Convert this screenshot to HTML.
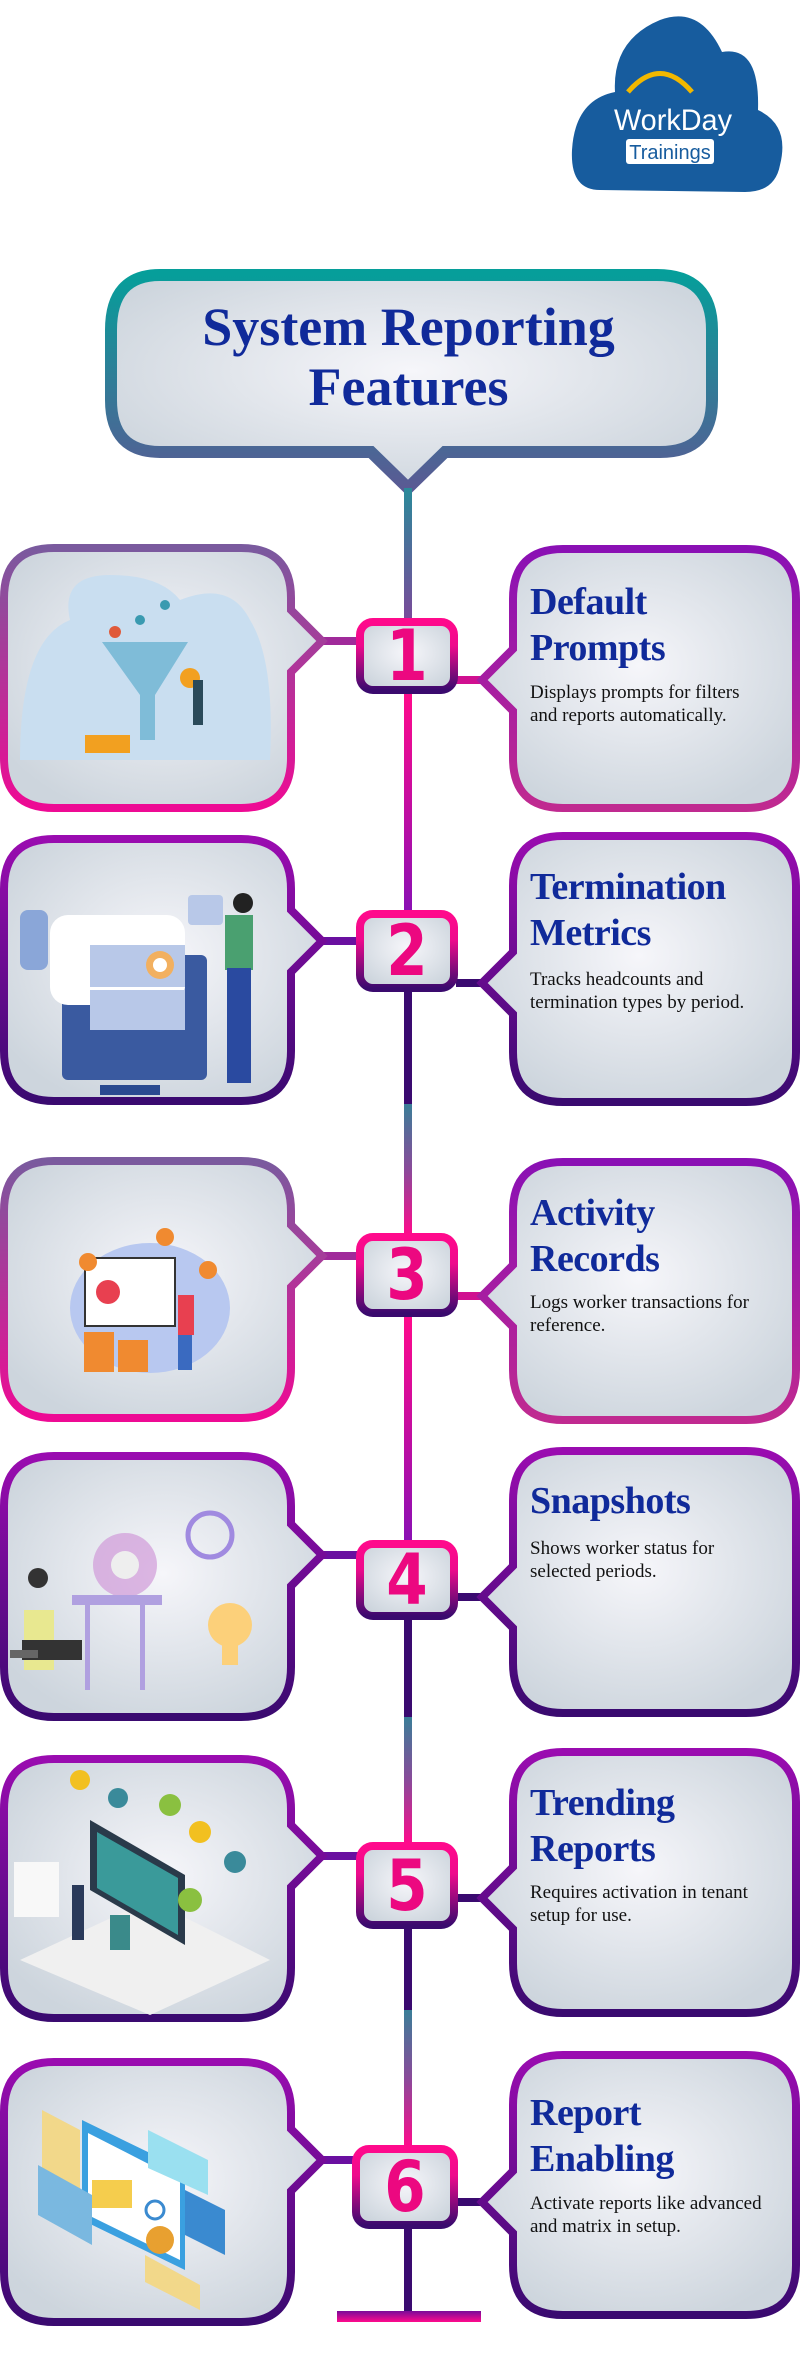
<!DOCTYPE html>
<html><head><meta charset="utf-8"><style>
html,body{margin:0;padding:0;background:#fff;}
.wrap{position:relative;width:800px;height:2353px;overflow:hidden;font-family:"Liberation Serif",serif;}
svg{position:absolute;left:0;top:0;}
.h{position:absolute;left:530px;width:260px;color:#102a9a;font-weight:bold;font-size:38px;line-height:46px;letter-spacing:-0.5px;}
.b{position:absolute;left:530px;width:248px;color:#111;font-size:19px;line-height:23px;}
.n{position:absolute;width:104px;text-align:center;font-family:"DejaVu Sans",sans-serif;font-weight:bold;color:#ec0880;font-size:70px;line-height:80px;transform:scaleX(0.85);}
.t{position:absolute;left:105px;width:607px;text-align:center;color:#102a9a;font-weight:bold;font-size:54px;line-height:60px;}
</style></head><body><div class="wrap">
<svg width="800" height="2353" viewBox="0 0 800 2353">
<defs>
<radialGradient id="fill" cx="50%" cy="45%" r="60%"><stop offset="0" stop-color="#f6f6fa"/><stop offset="1" stop-color="#cdd5dd"/></radialGradient>
<linearGradient id="gp" x1="0" y1="0" x2="0" y2="1"><stop offset="0" stop-color="#7a5a9e"/><stop offset="1" stop-color="#ee0a94"/></linearGradient>
<linearGradient id="pp" x1="0" y1="0" x2="0" y2="1"><stop offset="0" stop-color="#8a10b4"/><stop offset="1" stop-color="#c02a90"/></linearGradient>
<linearGradient id="pd" x1="0" y1="0" x2="0" y2="1"><stop offset="0" stop-color="#9a0cb0"/><stop offset="1" stop-color="#3a0a70"/></linearGradient>
<linearGradient id="num" x1="0" y1="0" x2="0" y2="1"><stop offset="0" stop-color="#ff0a8c"/><stop offset="0.35" stop-color="#ee0a8c"/><stop offset="1" stop-color="#3a0a6e"/></linearGradient>
<linearGradient id="tl" x1="0" y1="0" x2="0" y2="1"><stop offset="0" stop-color="#069e9a"/><stop offset="1" stop-color="#5a5a94"/></linearGradient>
<linearGradient id="seg" x1="0" y1="0" x2="0" y2="1"><stop offset="0" stop-color="#3a7e98"/><stop offset="0.5" stop-color="#8a4a9a"/><stop offset="1" stop-color="#ff0a8c"/></linearGradient>
<linearGradient id="segT" x1="0" y1="0" x2="0" y2="1"><stop offset="0" stop-color="#2a8a9a"/><stop offset="1" stop-color="#7a4a9a"/></linearGradient>
<linearGradient id="bar" x1="0" y1="0" x2="0" y2="1"><stop offset="0" stop-color="#7a0a9a"/><stop offset="1" stop-color="#ff0a8c"/></linearGradient>
<linearGradient id="pinkpur" x1="0" y1="0" x2="0" y2="1"><stop offset="0" stop-color="#ff0a8c"/><stop offset="1" stop-color="#8a10b4"/></linearGradient>
</defs>

<g>
<path d="M600 190 Q570 190 572 150 Q575 100 615 92 Q612 40 660 20 Q700 5 722 52 Q760 45 758 110 Q790 125 780 165 Q775 192 745 192 Z" fill="#175c9e"/>
<path d="M628 92 Q660 55 692 92" stroke="#f2b800" stroke-width="5" fill="none"/>
<text x="673" y="130" text-anchor="middle" font-family="Liberation Sans,sans-serif" font-size="30" fill="#fff" textLength="118" lengthAdjust="spacingAndGlyphs">WorkDay</text>
<rect x="626" y="139" width="88" height="25" rx="3" fill="#fff"/>
<text x="670" y="159" text-anchor="middle" font-family="Liberation Sans,sans-serif" font-size="20" fill="#175c9e">Trainings</text>
</g>

<path d="M160 275 H657 Q712 275 712 330 V400 Q712 452 660 452 H445 L408 488 L371 452 H160 Q111 452 111 400 V330 Q111 275 160 275 Z" fill="url(#fill)" stroke="url(#tl)" stroke-width="12"/>

<rect x="404" y="488" width="8" height="132" fill="url(#segT)"/>
<rect x="404" y="694" width="8" height="218" fill="url(#pinkpur)"/>
<rect x="404" y="992" width="8" height="112" fill="#3a0a70"/>
<rect x="404" y="1104" width="8" height="131" fill="url(#seg)"/>
<rect x="404" y="1317" width="8" height="225" fill="url(#pinkpur)"/>
<rect x="404" y="1619" width="8" height="98" fill="#3a0a70"/>
<rect x="404" y="1717" width="8" height="127" fill="url(#seg)"/>
<rect x="404" y="1928" width="8" height="82" fill="#3a0a70"/>
<rect x="404" y="2010" width="8" height="137" fill="url(#seg)"/>
<rect x="404" y="2227" width="8" height="88" fill="#3a0a70"/>
<rect x="337" y="2311" width="144" height="11" fill="url(#bar)"/>

<g>
<rect x="318" y="637" width="40" height="8" fill="#a02a9a"/>
<rect x="456" y="676" width="30" height="8" fill="#d01090"/>
<path d="M54 548 H241 Q291 548 291 598 V610 L322 641 L291 672 V758 Q291 808 241 808 H54 Q4 808 4 758 V598 Q4 548 54 548 Z" fill="url(#fill)" stroke="url(#gp)" stroke-width="8"/>
<path d="M563 549 H746 Q796 549 796 599 V758 Q796 808 746 808 H563 Q513 808 513 758 V711 L482 680 L513 649 V599 Q513 549 563 549 Z" fill="url(#fill)" stroke="url(#pp)" stroke-width="8"/>
<rect x="360" y="622" width="94" height="68" rx="13" fill="url(#fill)" stroke="url(#num)" stroke-width="8"/>
</g>
<g>
<rect x="318" y="937" width="40" height="8" fill="#6a10a0"/>
<rect x="456" y="979" width="30" height="8" fill="#3a0a70"/>
<path d="M54 839 H241 Q291 839 291 889 V910 L322 941 L291 972 V1051 Q291 1101 241 1101 H54 Q4 1101 4 1051 V889 Q4 839 54 839 Z" fill="url(#fill)" stroke="url(#pd)" stroke-width="8"/>
<path d="M563 836 H746 Q796 836 796 886 V1052 Q796 1102 746 1102 H563 Q513 1102 513 1052 V1014 L482 983 L513 952 V886 Q513 836 563 836 Z" fill="url(#fill)" stroke="url(#pd)" stroke-width="8"/>
<rect x="360" y="914" width="94" height="74" rx="13" fill="url(#fill)" stroke="url(#num)" stroke-width="8"/>
</g>
<g>
<rect x="318" y="1252" width="40" height="8" fill="#a02a9a"/>
<rect x="456" y="1292" width="30" height="8" fill="#d01090"/>
<path d="M54 1161 H241 Q291 1161 291 1211 V1225 L322 1256 L291 1287 V1368 Q291 1418 241 1418 H54 Q4 1418 4 1368 V1211 Q4 1161 54 1161 Z" fill="url(#fill)" stroke="url(#gp)" stroke-width="8"/>
<path d="M563 1162 H746 Q796 1162 796 1212 V1370 Q796 1420 746 1420 H563 Q513 1420 513 1370 V1327 L482 1296 L513 1265 V1212 Q513 1162 563 1162 Z" fill="url(#fill)" stroke="url(#pp)" stroke-width="8"/>
<rect x="360" y="1237" width="94" height="76" rx="13" fill="url(#fill)" stroke="url(#num)" stroke-width="8"/>
</g>
<g>
<rect x="318" y="1551" width="40" height="8" fill="#6a10a0"/>
<rect x="456" y="1593" width="30" height="8" fill="#3a0a70"/>
<path d="M54 1456 H241 Q291 1456 291 1506 V1524 L322 1555 L291 1586 V1667 Q291 1717 241 1717 H54 Q4 1717 4 1667 V1506 Q4 1456 54 1456 Z" fill="url(#fill)" stroke="url(#pd)" stroke-width="8"/>
<path d="M563 1451 H746 Q796 1451 796 1501 V1663 Q796 1713 746 1713 H563 Q513 1713 513 1663 V1628 L482 1597 L513 1566 V1501 Q513 1451 563 1451 Z" fill="url(#fill)" stroke="url(#pd)" stroke-width="8"/>
<rect x="360" y="1544" width="94" height="72" rx="13" fill="url(#fill)" stroke="url(#num)" stroke-width="8"/>
</g>
<g>
<rect x="318" y="1852" width="40" height="8" fill="#6a10a0"/>
<rect x="456" y="1894" width="30" height="8" fill="#3a0a70"/>
<path d="M54 1759 H241 Q291 1759 291 1809 V1825 L322 1856 L291 1887 V1968 Q291 2018 241 2018 H54 Q4 2018 4 1968 V1809 Q4 1759 54 1759 Z" fill="url(#fill)" stroke="url(#pd)" stroke-width="8"/>
<path d="M563 1752 H746 Q796 1752 796 1802 V1963 Q796 2013 746 2013 H563 Q513 2013 513 1963 V1929 L482 1898 L513 1867 V1802 Q513 1752 563 1752 Z" fill="url(#fill)" stroke="url(#pd)" stroke-width="8"/>
<rect x="360" y="1846" width="94" height="79" rx="13" fill="url(#fill)" stroke="url(#num)" stroke-width="8"/>
</g>
<g>
<rect x="318" y="2156" width="40" height="8" fill="#6a10a0"/>
<rect x="456" y="2198" width="30" height="8" fill="#3a0a70"/>
<path d="M54 2062 H241 Q291 2062 291 2112 V2129 L322 2160 L291 2191 V2272 Q291 2322 241 2322 H54 Q4 2322 4 2272 V2112 Q4 2062 54 2062 Z" fill="url(#fill)" stroke="url(#pd)" stroke-width="8"/>
<path d="M563 2055 H746 Q796 2055 796 2105 V2265 Q796 2315 746 2315 H563 Q513 2315 513 2265 V2233 L482 2202 L513 2171 V2105 Q513 2055 563 2055 Z" fill="url(#fill)" stroke="url(#pd)" stroke-width="8"/>
<rect x="356" y="2149" width="98" height="76" rx="13" fill="url(#fill)" stroke="url(#num)" stroke-width="8"/>
</g>

<g>
<path d="M20 760 Q20 640 70 620 Q60 575 110 575 Q160 575 180 600 Q230 580 250 620 Q275 660 270 760 Z" fill="#c9def0"/>
<path d="M102 642 H188 L155 695 V740 H140 V695 Z" fill="#7fbcd8"/>
<circle cx="190" cy="678" r="10" fill="#f2a020"/><rect x="193" y="680" width="10" height="45" fill="#2a4a5a"/>
<rect x="85" y="735" width="45" height="18" fill="#f2a020"/>
<circle cx="115" cy="632" r="6" fill="#e05a3a"/><circle cx="140" cy="620" r="5" fill="#3a9ab0"/><circle cx="165" cy="605" r="5" fill="#3a9ab0"/>
</g>
<g>
<rect x="20" y="910" width="28" height="60" rx="8" fill="#8aa6d8"/>
<rect x="62" y="955" width="145" height="125" rx="6" fill="#3a5aa0"/>
<rect x="50" y="915" width="135" height="90" rx="18" fill="#fff"/>
<rect x="90" y="945" width="95" height="42" fill="#b8c8e8"/><rect x="90" y="990" width="95" height="40" fill="#b8c8e8"/>
<circle cx="160" cy="965" r="14" fill="#f2b060"/><circle cx="160" cy="965" r="7" fill="#fff"/>
<rect x="100" y="1085" width="60" height="10" fill="#2a4a90"/>
<rect x="225" y="915" width="28" height="55" fill="#4aa070"/>
<rect x="227" y="968" width="24" height="115" fill="#2a4aa0"/>
<circle cx="243" cy="903" r="10" fill="#222"/>
<rect x="188" y="895" width="35" height="30" rx="4" fill="#b8c8e8"/>
</g>
<g>
<ellipse cx="150" cy="1308" rx="80" ry="65" fill="#b8c8f0"/>
<rect x="85" y="1258" width="90" height="68" fill="#fff" stroke="#333" stroke-width="2"/>
<circle cx="108" cy="1292" r="12" fill="#e84050"/>
<rect x="84" y="1332" width="30" height="40" fill="#f08a30"/><rect x="118" y="1340" width="30" height="32" fill="#f08a30"/>
<circle cx="88" cy="1262" r="9" fill="#f08a30"/><circle cx="165" cy="1237" r="9" fill="#f08a30"/><circle cx="208" cy="1270" r="9" fill="#f08a30"/>
<rect x="178" y="1295" width="16" height="40" fill="#e84050"/><rect x="178" y="1335" width="14" height="35" fill="#3a6ac0"/>
</g>
<g>
<circle cx="125" cy="1565" r="32" fill="#d09ad8" opacity="0.7"/><circle cx="125" cy="1565" r="14" fill="#eee"/>
<circle cx="210" cy="1535" r="22" fill="none" stroke="#a08ae0" stroke-width="5"/>
<rect x="72" y="1595" width="90" height="10" fill="#b0a0e0"/><rect x="85" y="1605" width="5" height="85" fill="#b0a0e0"/><rect x="140" y="1605" width="5" height="85" fill="#b0a0e0"/>
<rect x="24" y="1610" width="30" height="60" fill="#e8e890"/><rect x="22" y="1640" width="60" height="20" fill="#333"/>
<rect x="10" y="1650" width="28" height="8" fill="#666"/>
<circle cx="230" cy="1625" r="22" fill="#fcd07a"/><rect x="222" y="1645" width="16" height="20" fill="#fcd07a"/>
<circle cx="38" cy="1578" r="10" fill="#333"/>
</g>
<g>
<path d="M20 1960 L150 1900 L270 1960 L150 2015 Z" fill="#f0f0f0"/>
<path d="M90 1820 L185 1875 V1945 L90 1890 Z" fill="#2a3a4a"/><path d="M97 1832 L178 1878 V1935 L97 1888 Z" fill="#3a9a9a"/>
<rect x="14" y="1862" width="45" height="55" fill="#f8f8f8"/>
<circle cx="170" cy="1805" r="11" fill="#8ac040"/><circle cx="200" cy="1832" r="11" fill="#f2c020"/><circle cx="235" cy="1862" r="11" fill="#3a8a9a"/><circle cx="190" cy="1900" r="12" fill="#8ac040"/><circle cx="118" cy="1798" r="10" fill="#3a8a9a"/><circle cx="80" cy="1780" r="10" fill="#f2c020"/>
<rect x="72" y="1885" width="12" height="55" fill="#2a3a5a"/><rect x="110" y="1915" width="20" height="35" fill="#3a8a8a"/>
</g>
<g>
<path d="M42 2110 L80 2130 V2190 L42 2170 Z" fill="#f2d88a"/>
<path d="M82 2120 L185 2170 V2270 L82 2220 Z" fill="#3aa0e0"/><path d="M88 2133 L180 2180 V2260 L88 2215 Z" fill="#fff"/>
<rect x="92" y="2180" width="40" height="28" fill="#f2c020" opacity="0.8"/>
<path d="M38 2165 L92 2195 V2245 L38 2215 Z" fill="#7ab8e0"/>
<path d="M148 2130 L208 2160 V2195 L148 2168 Z" fill="#9ae0f0"/>
<path d="M185 2190 L225 2210 V2255 L185 2235 Z" fill="#3a8ad0"/>
<circle cx="155" cy="2210" r="9" fill="none" stroke="#3a8ad0" stroke-width="3"/>
<path d="M145 2255 L200 2285 V2310 L145 2282 Z" fill="#f2d88a"/>
<circle cx="160" cy="2240" r="14" fill="#e8a030"/>
</g>
</svg>

<div class="t" style="top:297px;">System Reporting<br>Features</div>

<div class="n" style="left:355px;top:616px;">1</div>
<div class="n" style="left:355px;top:911px;">2</div>
<div class="n" style="left:355px;top:1235px;">3</div>
<div class="n" style="left:355px;top:1540px;">4</div>
<div class="n" style="left:355px;top:1846px;">5</div>
<div class="n" style="left:353px;top:2147px;">6</div>

<div class="h" style="top:579px;">Default<br>Prompts</div>
<div class="b" style="top:681px;width:222px;">Displays prompts for filters and reports automatically.</div>

<div class="h" style="top:864px;">Termination<br>Metrics</div>
<div class="b" style="top:968px;">Tracks headcounts and termination types by period.</div>

<div class="h" style="top:1190px;">Activity<br>Records</div>
<div class="b" style="top:1291px;">Logs worker transactions for reference.</div>

<div class="h" style="top:1478px;">Snapshots</div>
<div class="b" style="top:1537px;">Shows worker status for selected periods.</div>

<div class="h" style="top:1780px;">Trending<br>Reports</div>
<div class="b" style="top:1881px;">Requires activation in tenant setup for use.</div>

<div class="h" style="top:2090px;">Report<br>Enabling</div>
<div class="b" style="top:2192px;">Activate reports like advanced and matrix in setup.</div>
</div></body></html>
